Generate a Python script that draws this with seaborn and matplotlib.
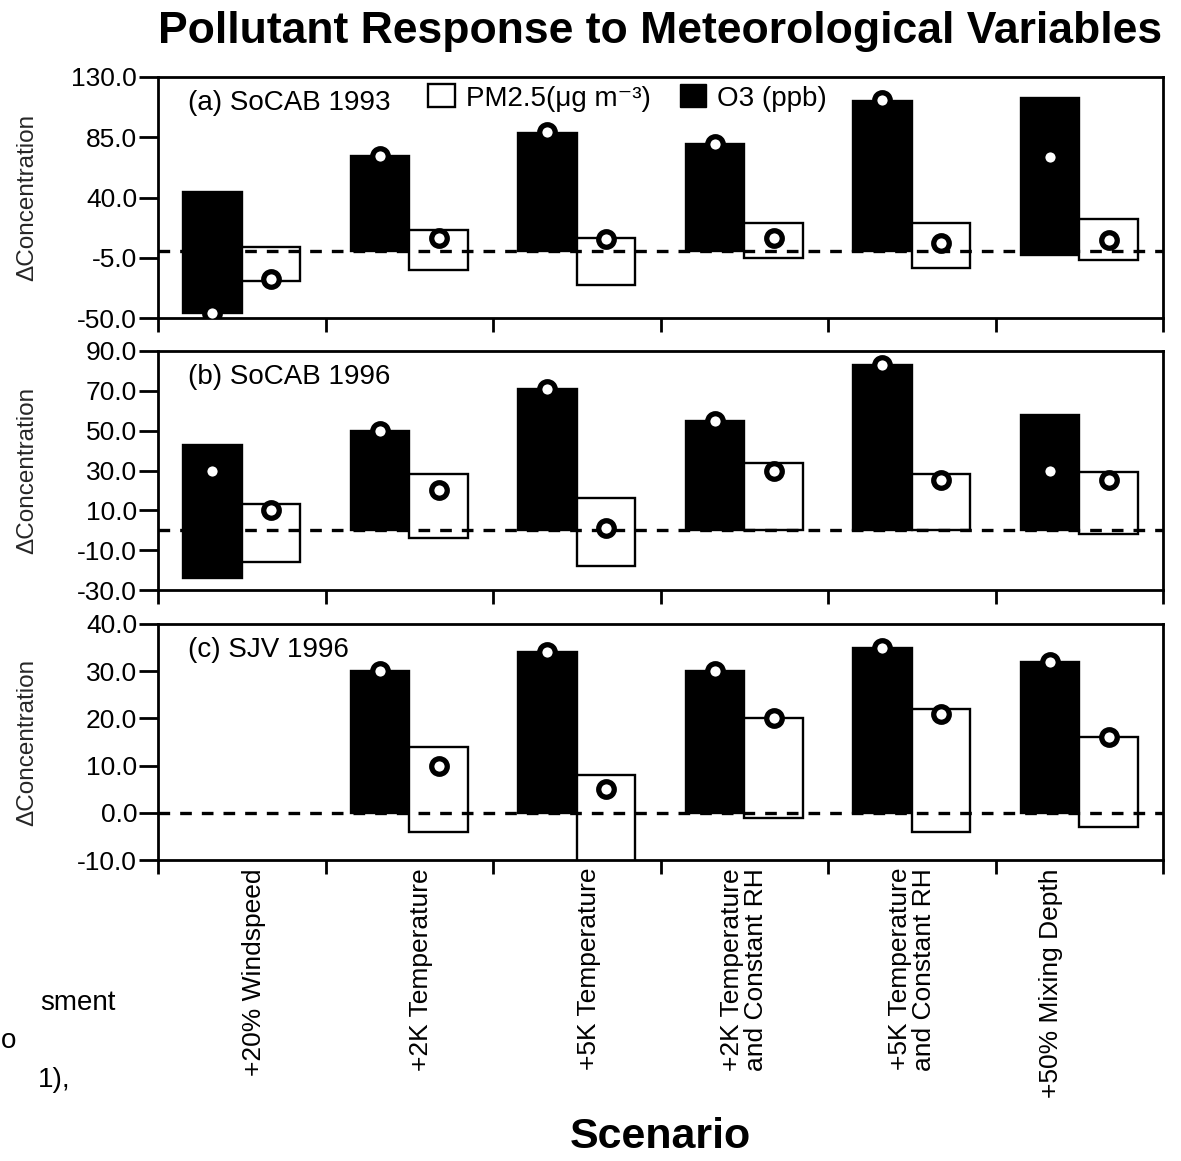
import numpy as np
import pandas as pd
import matplotlib
matplotlib.use("Agg")
import matplotlib.pyplot as plt
import matplotlib.transforms as mtransforms
import seaborn as sns
from matplotlib.patches import Patch

# ---------------- data ----------------
scenarios = ["+20% Windspeed", "+2K Temperature", "+5K Temperature",
             "+2K Temperature\nand Constant RH", "+5K Temperature\nand Constant RH",
             "+50% Mixing Depth"]
species = ["O3", "PM2.5"]
nan = np.nan

# (a) SoCAB 1993
a_o3_low = [-46, 0, 0, 0, 0, -3]
a_o3_high = [44, 71, 88, 80, 112, 114]
a_o3_point = [-46, 71, 89, 80, 113, 70]
a_pm_low = [-22, -14, -25, -5, -13, -7]
a_pm_high = [3, 16, 10, 21, 21, 24]
a_pm_point = [-21, 10, 9, 10, 6, 8]

# (b) SoCAB 1996
b_o3_low = [-24, 0, 0, 0, 0, 0]
b_o3_high = [43, 50, 71, 55, 83, 58]
b_o3_point = [30, 50, 71, 55, 83, 30]
b_pm_low = [-16, -4, -18, 0, 0, -2]
b_pm_high = [13, 28, 16, 34, 28, 29]
b_pm_point = [10, 20, 1, 30, 25, 25]

# (c) SJV 1996
c_o3_low = [nan, 0, 0, 0, 0, 0]
c_o3_high = [nan, 30, 34, 30, 35, 32]
c_o3_point = [nan, 30, 34, 30, 35, 32]
c_pm_low = [nan, -4, -11, -1, -4, -3]
c_pm_high = [nan, 14, 8, 20, 22, 16]
c_pm_point = [nan, 10, 5, 20, 21, 16]

panel_labels = ["(a) SoCAB 1993", "(b) SoCAB 1996", "(c) SJV 1996"]
panel_yticks = [[-50, -5, 40, 85, 130], [-30, -10, 10, 30, 50, 70, 90], [-10, 0, 10, 20, 30, 40]]
legend_labels = ["PM2.5(\u03bcg m\u207b\u00b3)", "O3 (ppb)"]

# ---------------- style ----------------
sns.set_theme(style="ticks")
plt.rcParams["font.family"] = ["Liberation Sans", "DejaVu Sans"]
plt.rcParams["axes.edgecolor"] = "black"
plt.rcParams["text.color"] = "black"
plt.rcParams["xtick.color"] = "black"
plt.rcParams["ytick.color"] = "black"

W, H = 1181, 1161
fig = plt.figure(figsize=(W / 100, H / 100), dpi=100)

left, right = 158, 1163
panel_px = [(77, 318), (351, 590), (624, 860)]
palette = {"O3": "black", "PM2.5": "white"}
bar_width = 0.7
offsets = {"O3": -bar_width / 4, "PM2.5": bar_width / 4}
label_dx_px = [12, 12, 12, 0, 0, -28]   # horizontal nudges of the category labels

panels = [
    ((a_o3_low, a_o3_high, a_o3_point), (a_pm_low, a_pm_high, a_pm_point)),
    ((b_o3_low, b_o3_high, b_o3_point), (b_pm_low, b_pm_high, b_pm_point)),
    ((c_o3_low, c_o3_high, c_o3_point), (c_pm_low, c_pm_high, c_pm_point)),
]

axes = []
for p, ((o3l, o3h, o3p), (pml, pmh, pmp)) in enumerate(panels):
    top, bot = panel_px[p]
    ax = fig.add_axes([left / W, 1 - bot / H, (right - left) / W, (bot - top) / H])
    axes.append(ax)

    rows = []
    for sp, (lo_arr, hi_arr, pt_arr) in zip(species, [(o3l, o3h, o3p), (pml, pmh, pmp)]):
        for i, sc in enumerate(scenarios):
            lo, hi, pt = lo_arr[i], hi_arr[i], pt_arr[i]
            if np.isnan(lo):
                continue
            rows.append(dict(scenario=sc, species=sp, low=lo, high=hi,
                             span=hi - lo, point=pt, idx=i))
    df = pd.DataFrame(rows)

    sns.barplot(data=df, x="scenario", y="span", hue="species", order=scenarios,
                hue_order=species, palette=palette, edgecolor="black", linewidth=1.7,
                width=bar_width, dodge=True, errorbar=None, legend=False, ax=ax,
                zorder=2, saturation=1)

    # turn bars into floating bars (low -> high)
    for cont, sp in zip(ax.containers, species):
        sub = df[df.species == sp].set_index("idx")
        for bar in cont:
            idx = int(round(bar.get_x() + bar.get_width() / 2))
            bar.set_y(sub.loc[idx, "low"])
            bar.set_height(sub.loc[idx, "span"])

    ax.axhline(0, color="black", lw=2.4, dashes=(3.5, 3.0), zorder=3)

    df["xpos"] = df["idx"] + df["species"].map(offsets)
    sns.scatterplot(data=df, x="xpos", y="point", color="white", edgecolor="black",
                    linewidth=3.8, s=125, zorder=5, ax=ax, legend=False)

    yt = panel_yticks[p]
    ax.set_ylim(yt[0], yt[-1])
    ax.set_yticks(yt)
    ax.set_yticklabels([f"{v:.1f}" for v in yt], fontsize=19)
    ax.set_xlim(-0.5, len(scenarios) - 0.5)
    ax.set_xticks(range(len(scenarios)))
    ax.set_xticklabels([])
    ax.tick_params(axis="x", which="major", length=0)
    ax.set_xticks(np.arange(-0.5, len(scenarios), 1), minor=True)
    ax.tick_params(axis="x", which="minor", length=10, width=2.0, direction="out")
    ax.tick_params(axis="y", length=14, width=2.0, direction="out", pad=1)
    for s in ax.spines.values():
        s.set_linewidth(2.0)
        s.set_visible(True)
    ax.set_xlabel("")
    ax.set_ylabel("\u0394Concentration", fontsize=17.5)
    ax.yaxis.set_label_coords(-(left - 38) / (right - left), 0.5)
    ax.text(0.030, 1 - 33 / (bot - top), panel_labels[p], transform=ax.transAxes,
            fontsize=20, va="baseline", ha="left", zorder=6)

    if p == 2:
        for i, (name, dx) in enumerate(zip(scenarios, label_dx_px)):
            tr = ax.get_xaxis_transform() + mtransforms.ScaledTranslation(
                dx / 100, -8 / 100, fig.dpi_scale_trans)
            ax.text(i, 0, name, transform=tr, rotation=90, fontsize=19,
                    ha="center", va="top", multialignment="right", linespacing=1.0,
                    clip_on=False)

# legend in panel (a)
handles = [Patch(facecolor="white", edgecolor="black", linewidth=1.7),
           Patch(facecolor="black", edgecolor="black")]
axes[0].legend(handles, legend_labels, ncol=2, frameon=False,
               loc="center left", bbox_to_anchor=(0.258, 0.913), fontsize=20,
               handlelength=0.95, handleheight=0.9, handletextpad=0.4, columnspacing=1.05,
               borderaxespad=0)

fig.text(660 / W, 1 - 43 / H, "Pollutant Response to Meteorological Variables",
         fontsize=32, fontweight="bold", ha="center", va="baseline")
fig.text(660 / W, 1 - 1148 / H, "Scenario", fontsize=31, fontweight="bold",
         ha="center", va="baseline")

# stray text fragments at the left edge of the source image
fig.text(40 / W, 1 - 1003 / H, "sment", fontsize=20, ha="left", va="center")
fig.text(0.5 / W, 1 - 1041 / H, "o", fontsize=20, ha="left", va="center")
fig.text(38 / W, 1 - 1080 / H, "1),", fontsize=20, ha="left", va="center")

fig.savefig("out.png", dpi=100)
